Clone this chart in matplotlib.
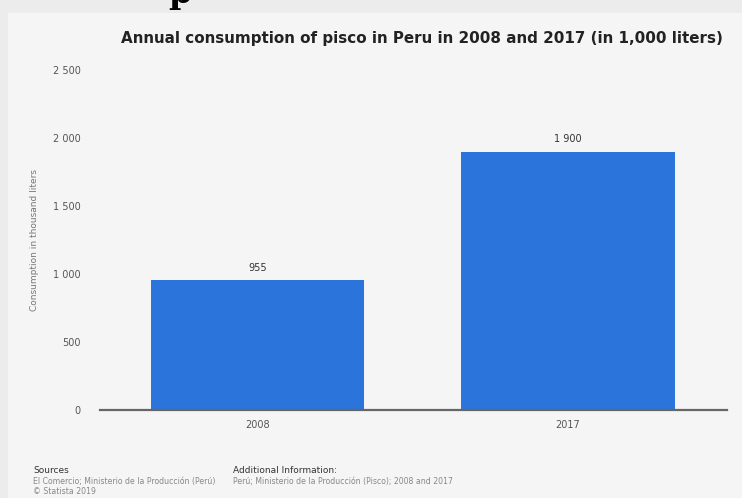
import matplotlib.pyplot as plt
from matplotlib.patches import Rectangle

years = ['2008', '2017']
consumption = [955, 1900]
y_ticks = [0, 500, 1000, 1500, 2000, 2500]
y_tick_labels = ['0', '500', '1 000', '1 500', '2 000', '2 500']
bar_labels = ['955', '1 900']

title = 'Annual consumption of pisco in Peru in 2008 and 2017 (in 1,000 liters)'
y_title = 'Consumption in thousand liters'
sources = 'El Comercio; Ministerio de la Producción (Perú)'
add_info = 'Perú; Ministerio de la Producción (Pisco); 2008 and 2017'


def main() -> None:
    W, H = 742, 498
    fig = plt.figure(figsize=(W / 100, H / 100), dpi=100)
    fig.patch.set_facecolor('#ececec')

    # light panel behind the chart
    fig.patches.append(Rectangle((8 / W, 0), 1 - 8 / W, 1 - 13 / H,
                                 transform=fig.transFigure,
                                 facecolor='#f5f5f5', edgecolor='none', zorder=-5))

    # cut off heading of the page above the panel
    fig.text(180 / W, 1 - 3 / H, 'p', ha='center', va='baseline',
             family='DejaVu Serif', fontsize=24, fontweight='bold', color='black')

    ax = fig.add_axes([100 / W, (H - 410) / H, 627 / W, 340 / H])
    ax.set_facecolor('none')

    x = list(range(len(years)))
    ax.bar(x, consumption, width=0.686, color='#2a74dc', zorder=2)
    for xi, v, lab in zip(x, consumption, bar_labels):
        ax.text(xi, v + 55, lab, ha='center', va='bottom', fontsize=7, color='#333333')

    ax.set_xlim(-0.507, 1.512)
    ax.set_ylim(0, 2500)
    ax.set_yticks(y_ticks)
    ax.set_yticklabels(y_tick_labels)
    ax.set_xticks(x)
    ax.set_xticklabels(years)
    ax.tick_params(axis='both', length=0, labelsize=7, colors='#555555')
    ax.tick_params(axis='y', pad=14)
    ax.tick_params(axis='x', pad=7)

    for side in ['top', 'right', 'left']:
        ax.spines[side].set_visible(False)
    ax.spines['bottom'].set_color('#666666')
    ax.spines['bottom'].set_linewidth(1.6)
    ax.spines['bottom'].set_zorder(3)

    fig.text(35 / W, 1 - 240 / H, y_title, rotation=90, ha='center', va='center',
             fontsize=6.5, color='#777777')

    fig.text(422 / W, 1 - 38 / H, title, ha='center', va='center',
             fontsize=10.9, fontweight='bold', color='#222222')

    # footer
    fig.text(33 / W, 1 - 470 / H, 'Sources', fontsize=6.5, color='#333333', va='center')
    fig.text(33 / W, 1 - 481 / H, sources, fontsize=5.6, color='#888888', va='center')
    fig.text(33 / W, 1 - 491 / H, '© Statista 2019', fontsize=5.6, color='#888888', va='center')
    fig.text(233 / W, 1 - 470 / H, 'Additional Information:', fontsize=6.5, color='#333333', va='center')
    fig.text(233 / W, 1 - 481 / H, add_info, fontsize=5.6, color='#888888', va='center')

    fig.savefig('out.png', dpi=100, facecolor=fig.get_facecolor())


if __name__ == '__main__':
    main()
